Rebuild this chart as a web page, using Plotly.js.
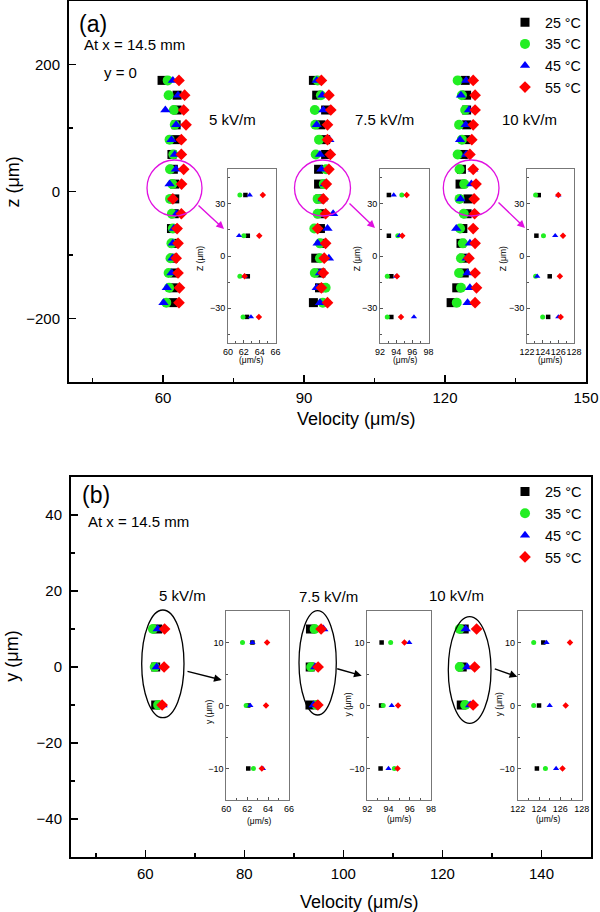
<!DOCTYPE html>
<html><head><meta charset="utf-8">
<script src="https://cdn.plot.ly/plotly-3.0.1.min.js"></script>
<style>html,body{margin:0;padding:0;background:#fff}#chart{width:600px;height:912px}</style>
</head><body><div id="chart"></div>
<script>
// ---------- DATA ----------
const tempLabels = ['25 °C', '35 °C', '45 °C', '55 °C'];
const fieldLabels = ['5 kV/m', '7.5 kV/m', '10 kV/m'];

// panel (a): z positions (µm), y = 0
const zPos = [175, 151.67, 128.33, 105, 81.67, 58.33, 35, 11.67, -11.67, -35, -58.33, -81.67, -105, -128.33, -151.67, -175];
// rows shown in the zoomed insets (indices into zPos)
const insetRowsA = [6, 7, 8, 9];

const v5_25  = [59.8, 63.0, 63.0, 62.8, 62.8, 61.9, 62.2, 62.5, 62.5, 62.4, 61.8, 62.3, 62.2, 62.5, 62.2, 62.1];
const v5_35  = [61.0, 61.2, 62.3, 62.5, 61.4, 62.2, 61.5, 62.0, 61.5, 61.9, 62.1, 61.8, 61.6, 61.2, 61.3, 60.7];
const v5_45  = [62.1, 63.2, 60.5, 62.8, 61.8, 62.5, 62.75, 61.4, 62.1, 62.9, 62.3, 62.1, 62.0, 61.8, 60.8, 60.1];
const v5_55  = [63.4, 64.6, 64.4, 64.9, 63.9, 63.9, 64.4, 63.95, 62.1, 63.9, 63.0, 63.2, 62.8, 63.2, 63.5, 63.4];

const v75_25 = [92.0, 92.7, 94.6, 93.6, 94.6, 94.6, 93.1, 93.1, 93.4, 93.4, 93.5, 93.9, 92.5, 93.6, 93.3, 92.0];
const v75_35 = [92.9, 93.6, 92.3, 92.4, 93.2, 92.5, 94.7, 94.2, 92.9, 92.9, 92.2, 93.4, 93.4, 92.3, 94.6, 94.0];
const v75_45 = [92.7, 93.9, 94.1, 92.7, 95.4, 93.4, 93.7, 94.4, 94.0, 96.2, 95.0, 92.9, 95.3, 93.4, 92.7, 93.4];
const v75_55 = [93.7, 95.3, 95.7, 95.0, 95.0, 95.6, 95.3, 94.75, 94.1, 94.6, 92.9, 94.6, 94.3, 94.1, 93.7, 95.0];

const v10_25 = [124.3, 124.6, 124.6, 124.6, 124.4, 123.9, 123.5, 123.2, 124.9, 124.7, 123.8, 123.4, 124.0, 124.1, 122.5, 121.3];
const v10_35 = [122.7, 123.6, 124.3, 123.0, 123.6, 122.7, 123.1, 124.1, 123.1, 124.0, 123.2, 123.8, 123.4, 123.0, 123.4, 122.5];
const v10_45 = [124.5, 123.4, 125.1, 124.4, 123.2, 124.5, 126.0, 125.6, 123.3, 126.0, 122.4, 125.3, 124.6, 124.8, 125.3, 124.8];
const v10_55 = [126.0, 126.4, 126.4, 126.0, 125.7, 125.3, 126.0, 126.6, 126.2, 126.3, 126.0, 126.4, 125.1, 126.4, 126.7, 126.4];

// panel (b): y positions (µm)
const yPos = [10, 0, -10];
const b5_25  = [62.5, 62.1, 62.1];
const b5_35  = [61.55, 61.9, 62.6];
const b5_45  = [62.5, 62.3, 63.5];
const b5_55  = [63.9, 63.8, 63.4];
const b75_25 = [93.35, 93.3, 93.25];
const b75_35 = [94.2, 93.5, 94.55];
const b75_45 = [95.95, 94.3, 94.0];
const b75_55 = [95.5, 94.9, 94.85];
const b10_25 = [124.4, 124.0, 123.8];
const b10_35 = [123.5, 123.5, 124.6];
const b10_45 = [124.7, 125.0, 125.6];
const b10_55 = [126.9, 126.5, 126.2];

// ---------- STYLE ----------
const W = 600, H = 912;
const px = x => x / W;
const py = y => 1 - y / H;
const FONT = 'Liberation Sans, Arial, sans-serif';
const colors = ['#000000', '#22ee22', '#0000ff', '#ff0000'];
const symbols = ['square', 'circle', 'triangle-up', 'diamond'];
const mainSizes = [9, 10, 9, 9];
const insetSizes = [4.5, 5, 5.5, 5];

const topData = [[v5_25, v5_35, v5_45, v5_55], [v75_25, v75_35, v75_45, v75_55], [v10_25, v10_35, v10_45, v10_55]];
const botData = [[b5_25, b5_35, b5_45, b5_55], [b75_25, b75_35, b75_45, b75_55], [b10_25, b10_35, b10_45, b10_55]];

const traces = [];
// panel (a) main
topData.forEach((set, f) => set.forEach((arr, t) => {
  traces.push({x: arr, y: zPos, xaxis: 'x', yaxis: 'y', mode: 'markers', type: 'scatter',
    name: tempLabels[t], legend: 'legend', legendgroup: 'a' + t, showlegend: f === 0,
    marker: {symbol: symbols[t], color: colors[t], size: mainSizes[t]}});
}));
// panel (a) insets
topData.forEach((set, f) => set.forEach((arr, t) => {
  traces.push({x: insetRowsA.map(i => arr[i]), y: insetRowsA.map(i => zPos[i]),
    xaxis: 'x' + (3 + f), yaxis: 'y' + (3 + f), mode: 'markers', type: 'scatter', showlegend: false,
    marker: {symbol: symbols[t], color: colors[t], size: insetSizes[t]}});
}));
// panel (b) main
botData.forEach((set, f) => set.forEach((arr, t) => {
  traces.push({x: arr, y: yPos, xaxis: 'x2', yaxis: 'y2', mode: 'markers', type: 'scatter',
    name: tempLabels[t], legend: 'legend2', legendgroup: 'b' + t, showlegend: f === 0,
    marker: {symbol: symbols[t], color: colors[t], size: mainSizes[t]}});
}));
// panel (b) insets
botData.forEach((set, f) => set.forEach((arr, t) => {
  traces.push({x: arr, y: yPos, xaxis: 'x' + (6 + f), yaxis: 'y' + (6 + f), mode: 'markers', type: 'scatter', showlegend: false,
    marker: {symbol: symbols[t], color: colors[t], size: insetSizes[t]}});
}));

const mainAxis = (o) => Object.assign({
  showline: true, linecolor: '#000', linewidth: 2, mirror: true,
  ticks: 'inside', ticklen: 7, tickwidth: 1.5, tickcolor: '#000',
  showgrid: false, zeroline: false, fixedrange: true,
  tickfont: {size: 15, color: '#000', family: FONT}, ticklabelstandoff: 4,
}, o);
const insetAxis = (o) => Object.assign({
  showline: true, linecolor: '#777', linewidth: 1, mirror: true,
  ticks: 'inside', ticklen: 3, tickwidth: 1, tickcolor: '#555',
  showgrid: false, zeroline: false, tickangle: 0, fixedrange: true,
  tickfont: {size: 9, color: '#000', family: FONT},
}, o);

const layout = {
  width: W, height: H, margin: {l: 0, r: 0, t: 0, b: 0},
  paper_bgcolor: '#fff', plot_bgcolor: '#fff',
  font: {family: FONT, color: '#000'},
  showlegend: true,
  xaxis: mainAxis({domain: [px(69), px(586)], range: [40, 150], tick0: 0, dtick: 30, anchor: 'y', ticklabelstandoff: 1,
    minor: {ticks: 'inside', dtick: 15, tick0: 0, ticklen: 4, tickwidth: 1.5, tickcolor: '#000'}}),
  yaxis: mainAxis({domain: [py(382), py(1)], range: [-300, 300], tick0: 0, dtick: 200, anchor: 'x',
    minor: {ticks: 'inside', dtick: 100, tick0: 0, ticklen: 4, tickwidth: 1.5, tickcolor: '#000'}}),
  xaxis2: mainAxis({domain: [px(71), px(591)], range: [45, 150], tick0: 0, dtick: 20, anchor: 'y2', ticklabelstandoff: 2,
    minor: {ticks: 'inside', dtick: 10, tick0: 0, ticklen: 4, tickwidth: 1.5, tickcolor: '#000'}}),
  yaxis2: mainAxis({domain: [py(857), py(477)], range: [-50, 50], tick0: 0, dtick: 20, anchor: 'x2',
    minor: {ticks: 'inside', dtick: 10, tick0: 0, ticklen: 4, tickwidth: 1.5, tickcolor: '#000'}}),
  legend: {x: px(505), y: py(6.5), xanchor: 'left', yanchor: 'top', bgcolor: 'rgba(0,0,0,0)',
    font: {size: 14.3, family: FONT, color: '#000'}, tracegroupgap: 0},
  legend2: {x: px(505), y: py(475.5), xanchor: 'left', yanchor: 'top', bgcolor: 'rgba(0,0,0,0)',
    font: {size: 14.5, family: FONT, color: '#000'}, tracegroupgap: 0},
  shapes: [], annotations: []
};

// inset axes, panel (a)
const insetAx = [[228, 275.5], [380, 428.5], [527, 574]];
const insetRangesX = [[60, 66], [92, 98], [122, 128]];
insetAx.forEach((d, f) => {
  layout['xaxis' + (3 + f)] = insetAxis({domain: [px(d[0]), px(d[1])], range: insetRangesX[f], dtick: 2, tick0: 0,
    anchor: 'y' + (3 + f), minor: {ticks: 'inside', dtick: 1, ticklen: 2, tickcolor: '#555'}});
  layout['yaxis' + (3 + f)] = insetAxis({domain: [py(343), py(169)], range: [-50, 50], dtick: 30, tick0: 0,
    anchor: 'x' + (3 + f), minor: {ticks: 'inside', dtick: 15, tick0: 0, ticklen: 2, tickcolor: '#555'}});
});
// inset axes, panel (b)
const insetBx = [[226.3, 289], [367.3, 431], [517.7, 581.7]];
insetBx.forEach((d, f) => {
  layout['xaxis' + (6 + f)] = insetAxis({domain: [px(d[0]), px(d[1])], range: insetRangesX[f], dtick: 2, tick0: 0,
    anchor: 'y' + (6 + f), minor: {ticks: 'inside', dtick: 1, ticklen: 2, tickcolor: '#555'}});
  layout['yaxis' + (6 + f)] = insetAxis({domain: [py(800), py(611)], range: [-15, 15], dtick: 10, tick0: 0,
    anchor: 'x' + (6 + f), minor: {ticks: 'inside', dtick: 5, tick0: 0, ticklen: 2, tickcolor: '#555'}});
});

// decorations
const ann = (text, x, y, size, extra) => layout.annotations.push(Object.assign({
  text: text, x: px(x), y: py(y), xref: 'paper', yref: 'paper', showarrow: false,
  xanchor: 'left', yanchor: 'middle', font: {size: size, family: FONT, color: '#000'}
}, extra || {}));
const arrow = (x0, y0, x1, y1, color) => layout.annotations.push({
  text: '', x: px(x1), y: py(y1), xref: 'paper', yref: 'paper', showarrow: true,
  ax: x0 - x1, ay: y0 - y1, arrowhead: 2, arrowsize: 1.1, arrowwidth: 1.4, arrowcolor: color, standoff: 0
});
const ellipse = (x0, y0, x1, y1, color) => layout.shapes.push({
  type: 'circle', xref: 'paper', yref: 'paper', x0: px(x0), x1: px(x1), y0: py(y1), y1: py(y0),
  line: {color: color, width: 1.3}
});

// panel (a) texts
ann('(a)', 77, 24, 23);
ann('At x = 14.5 mm', 82, 45, 15);
ann('y = 0', 102, 72, 15);
ann(fieldLabels[0], 207, 120, 15);
ann(fieldLabels[1], 353, 120, 15);
ann(fieldLabels[2], 500, 120, 15);
ann('Velocity (μm/s)', 356, 419, 18, {xanchor: 'center'});
ann('z (μm)', 12.5, 182, 18, {xanchor: 'center', textangle: -90});
const MAG = '#e010e0';
ellipse(147, 160, 202, 216, MAG);
ellipse(294.5, 160, 350.5, 216, MAG);
ellipse(443.3, 160, 499, 216, MAG);
arrow(197, 204, 224, 229, MAG);
arrow(348, 202, 375, 228, MAG);
arrow(497, 201, 525, 228, MAG);
[[200, 250.7], [357.3, 405], [503.3, 550]].forEach(p => {
  ann('Z (μm)', p[0], 259, 8.5, {xanchor: 'center', textangle: -90});
  ann('(μm/s)', p[1], 360, 8.5, {xanchor: 'center'});
});

// panel (b) texts
ann('(b)', 80, 495, 23);
ann('At x = 14.5 mm', 86, 521.7, 15);
ann(fieldLabels[0], 157, 595.7, 15);
ann(fieldLabels[1], 297, 596, 15);
ann(fieldLabels[2], 426.7, 595.7, 15);
ann('Velocity (μm/s)', 359, 901.7, 18, {xanchor: 'center'});
ann('y (μm)', 11.7, 656, 18, {xanchor: 'center', textangle: -90});
ellipse(141.7, 610, 184, 717.7, '#000');
ellipse(299, 610.7, 336.3, 715, '#000');
ellipse(448.3, 616.7, 491, 723.3, '#000');
arrow(186, 671, 221.7, 680, '#000');
arrow(335.7, 668.3, 361.7, 675.7, '#000');
arrow(493.3, 668.3, 517.3, 676.7, '#000');
[[208.3, 711.7, 258.7, 820.7], [348.3, 704.3, 399, 819.3], [499.3, 704, 548.3, 819.3]].forEach(p => {
  ann('y (μm)', p[0], p[1], 8.5, {xanchor: 'center', textangle: -90});
  ann('(μm/s)', p[2], p[3], 8.5, {xanchor: 'center'});
});

Plotly.newPlot('chart', traces, layout, {displayModeBar: false, staticPlot: true});
</script>
</body></html>
